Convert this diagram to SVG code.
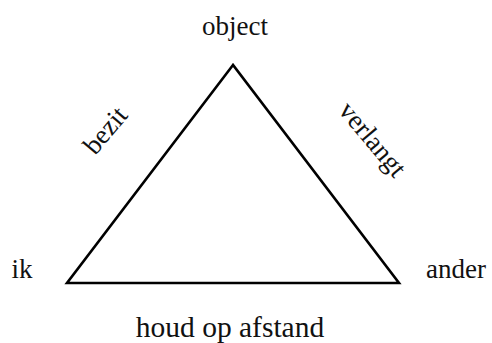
<svg xmlns="http://www.w3.org/2000/svg" width="492" height="343" viewBox="0 0 492 343">
<style>
text{font-family:"Liberation Serif","DejaVu Serif",serif;font-size:27px;fill:#111}
.edge{fill:none;stroke:#000;stroke-width:2.6;stroke-linejoin:miter}
</style>
<rect width="492" height="343" fill="#fff"/>
<g id="connectors">
<path class="edge" d="M233,65 L67,283 L399,283 Z"/>
</g>
<g id="node-object"><text x="235" y="35" text-anchor="middle">object</text></g>
<g id="node-ik"><text x="22" y="278" text-anchor="middle">ik</text></g>
<g id="node-ander"><text x="456" y="278" text-anchor="middle">ander</text></g>
<g id="label-bezit"><text x="0" y="0" text-anchor="middle" transform="translate(112,136) rotate(-50)">bezit</text></g>
<g id="label-verlangt"><text x="0" y="0" text-anchor="middle" transform="translate(366,145) rotate(50)">verlangt</text></g>
<g id="label-houd"><text x="230" y="337" text-anchor="middle" style="font-size:29.5px">houd op afstand</text></g>
</svg>
